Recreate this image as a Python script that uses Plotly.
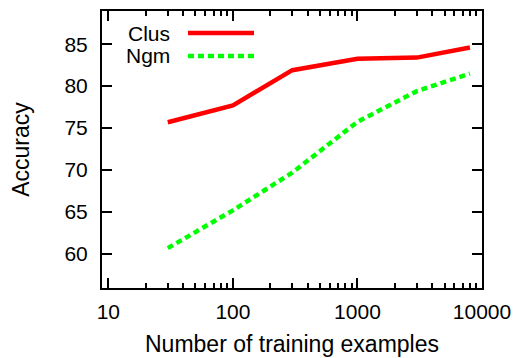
import plotly.graph_objects as go

train_sizes = [30, 100, 300, 1000, 3000, 8000]
clus_acc = [75.7, 77.7, 81.9, 83.25, 83.4, 84.6]
ngm_acc = [60.7, 65.2, 69.7, 75.75, 79.4, 81.5]
series_names = ["Clus", "Ngm"]
x_major = [10, 100, 1000, 10000]
x_labels = ["10", "100", "1000", "10000"]
y_major = [60, 65, 70, 75, 80, 85]

FONT = "Liberation Sans, Arial, sans-serif"
# page body has an 8px default margin, so the figure is placed at (8, 8)
L, R, T, B = 94, 42, 3, 70
W, H = 516, 350
pw, ph = W - L - R, H - T - B
TICK_SIZE = 21
TITLE_SIZE = 23
LEGEND_SIZE = 21

fig = go.Figure()
fig.add_trace(go.Scatter(x=train_sizes, y=clus_acc, mode="lines", name=series_names[0],
                         line=dict(color="#ff0000", width=4.5), showlegend=False))
fig.add_trace(go.Scatter(x=train_sizes, y=ngm_acc, mode="lines", name=series_names[1],
                         line=dict(color="#00ff00", width=4.5, dash="6px,4px"), showlegend=False))

minor_x = [v * m for v in (10, 100, 1000) for m in range(2, 10)]

fig.update_xaxes(type="log", range=[0.949, 4.0], tickvals=x_major, ticktext=x_labels,
                 ticks="inside", ticklen=10, tickwidth=1.5, tickcolor="black",
                 showline=True, linewidth=2, linecolor="black", mirror="allticks",
                 showgrid=False, zeroline=False, automargin=False,
                 minor=dict(tickvals=minor_x, ticks="inside", ticklen=5, tickwidth=1.5,
                            tickcolor="black", showgrid=False),
                 tickfont=dict(family=FONT, size=TICK_SIZE, color="black"),
                 ticklabelstandoff=4,
                 title=dict(text="Number of training examples",
                            font=dict(family=FONT, size=TITLE_SIZE, color="black"), standoff=14))
fig.update_yaxes(range=[55.95, 88.95], tickvals=y_major,
                 ticks="inside", ticklen=10, tickwidth=1.5, tickcolor="black",
                 showline=True, linewidth=2, linecolor="black", mirror="allticks",
                 showgrid=False, zeroline=False, automargin=False,
                 tickfont=dict(family=FONT, size=TICK_SIZE, color="black"),
                 ticklabelstandoff=8,
                 title=dict(text="Accuracy", font=dict(family=FONT, size=TITLE_SIZE, color="black"),
                            standoff=28))

# legend (text on left, line sample on right, gnuplot style); pixel positions from reference
text_x = (172 - 8 - L) / pw
line_x0, line_x1 = (188 - 8 - L) / pw, (254 - 8 - L) / pw
legend_styles = [dict(color="#ff0000", width=4.5), dict(color="#00ff00", width=4.5, dash="6px,4px")]
for i, name in enumerate(series_names):
    yp = ((H - B) - ([33, 56][i] - 8)) / ph
    fig.add_annotation(x=text_x, y=yp, xref="paper", yref="paper", text=name, showarrow=False,
                       xanchor="right", yanchor="middle",
                       font=dict(family=FONT, size=LEGEND_SIZE, color="black"))
    fig.add_shape(type="line", xref="paper", yref="paper", x0=line_x0, x1=line_x1,
                  y0=yp, y1=yp, line=legend_styles[i])

fig.update_layout(width=W, height=H, margin=dict(l=L, r=R, t=T, b=B),
                  plot_bgcolor="white", paper_bgcolor="white", showlegend=False)

fig.write_html("out.html")
